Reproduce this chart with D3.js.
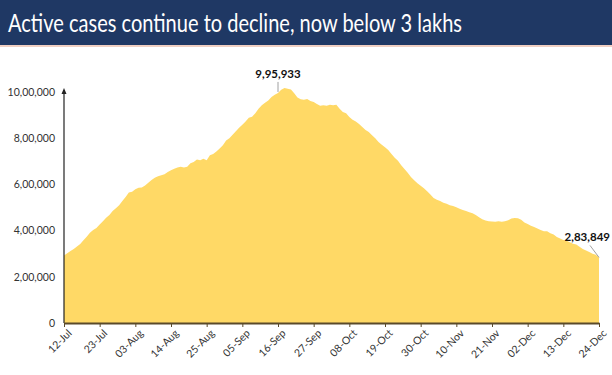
<!DOCTYPE html>
<html>
<head>
<meta charset="utf-8">
<script src="https://cdn.jsdelivr.net/npm/d3@7"></script>
<style>
  body { margin: 0; background: #fff; }
  svg { display: block; }
</style>
</head>
<body>
<div id="chart"></div>
<script>
let svgWidth = 612;
let svgHeight = 375;

let titleText = 'Active cases continue to decline, now below 3 lakhs';
let startDate = '2020-07-12';
let endDate = '2020-12-24';

// daily active cases, 12-Jul .. 24-Dec
let julyCases = [292258, 301609, 311565, 319840, 331146, 342473, 358692, 373379, 390459, 402529,
  411133, 426167, 440135, 456071, 467882, 485114, 496988, 509447, 528242, 545318];
let augCases = [565103, 567730, 579357, 585587, 586298, 595501, 607384, 619088, 628747, 634945,
  639929, 643948, 653622, 661595, 668220, 673166, 676900, 673166, 676514, 692028,
  697330, 707668, 704348, 710771, 704348, 725991, 731697, 742023, 755000, 770000, 790000];
let sepCases = [800000, 815000, 830000, 845000, 858000, 872000, 888000, 893000, 908000, 928000,
  943000, 953000, 963000, 978000, 988000, 995933, 1009976, 1017754, 1013964, 1010824,
  995000, 975861, 968377, 966382, 970116, 960969, 956402, 947576, 940705, 942217];
let octCases = [940441, 944996, 942217, 944996, 928000, 913000, 907883, 892000, 880000, 872000,
  861853, 848000, 836000, 826876, 812390, 800000, 783311, 772055, 761000, 748538,
  732000, 715812, 702000, 683000, 667000, 650000, 632000, 618000, 605000, 594386, 583000];
let novCases = [570458, 556000, 541405, 533787, 527962, 520773, 516632, 509673, 506000, 501000,
  494657, 489294, 484547, 479216, 475000, 468000, 458000, 449000, 443794, 440000,
  439747, 438667, 441000, 438000, 440962, 444746, 452344, 454940, 453956, 446952];
let decCases = [435603, 428644, 421000, 416082, 409000, 403000, 397000, 396729, 389000, 383000,
  372293, 366000, 359819, 356546, 350000, 343000, 339820, 330000, 320000, 313831,
  307000, 300000, 295000, 283849];

let yTicks = [0, 200000, 400000, 600000, 800000, 1000000];
let peakLabel = { date: '2020-09-16', value: 995933, text: '9,95,933' };
let lastLabel = { date: '2020-12-24', value: 283849, text: '2,83,849' };

let margin = { top: 92, right: 13, bottom: 52, left: 64 };
let width = svgWidth - margin.left - margin.right;
let height = svgHeight - margin.top - margin.bottom;

let parseDate = d3.timeParse('%Y-%m-%d');
let allCases = julyCases.concat(augCases, sepCases, octCases, novCases, decCases);
let chartData = allCases.map(function(v, i) {
  return { date: d3.timeDay.offset(parseDate(startDate), i), cases: v };
});

let svg = d3.select('#chart')
  .append('svg')
  .attr('width', svgWidth)
  .attr('height', svgHeight);

// title bar
svg.append('rect')
  .attr('x', 0).attr('y', 0)
  .attr('width', svgWidth).attr('height', 45)
  .attr('fill', '#1f3864');
svg.append('rect')
  .attr('x', 0).attr('y', 45)
  .attr('width', svgWidth).attr('height', 2)
  .attr('fill', '#f0cfc2');
svg.append('text')
  .attr('x', 8).attr('y', 32)
  .attr('fill', '#fff')
  .attr('font-family', 'Lato, sans-serif')
  .attr('font-size', 25)
  .attr('textLength', 454)
  .attr('lengthAdjust', 'spacingAndGlyphs')
  .text(titleText);

let chartGroup = svg.append('g')
  .attr('transform', `translate(${margin.left}, ${margin.top})`);

let xScale = d3.scaleTime()
  .domain([parseDate(startDate), parseDate(endDate)])
  .range([0, width]);

let yScale = d3.scaleLinear()
  .domain([0, 1000000])
  .range([height, 0]);

let area = d3.area()
  .x(d => xScale(d.date))
  .y0(height)
  .y1(d => yScale(d.cases));

chartGroup.append('path')
  .datum(chartData)
  .attr('d', area)
  .attr('fill', '#ffd966');

// y axis
let indianFormat = function(v) {
  if (v === 0) return '0';
  let s = String(v);
  let last3 = s.slice(-3);
  let rest = s.slice(0, -3);
  return rest.replace(/\B(?=(\d{2})+(?!\d))/g, ',') + ',' + last3;
};

let leftAxis = d3.axisLeft(yScale)
  .tickValues(yTicks)
  .tickSize(0)
  .tickPadding(9)
  .tickFormat(indianFormat);

let yAxis = chartGroup.append('g').call(leftAxis);
yAxis.select('.domain').remove();
yAxis.selectAll('text')
  .attr('font-family', 'Lato, sans-serif')
  .attr('font-size', 10.5)
  .attr('fill', '#333');

chartGroup.append('line')
  .attr('x1', 0).attr('x2', 0)
  .attr('y1', height).attr('y2', -2)
  .attr('stroke', '#222')
  .attr('stroke-width', 1.2);
chartGroup.append('path')
  .attr('d', 'M-2.5,2 L0,-4 L2.5,2 Z')
  .attr('fill', '#222');

// x axis
let xTicks = d3.range(0, 166, 11).map(i => d3.timeDay.offset(parseDate(startDate), i));
let bottomAxis = d3.axisBottom(xScale)
  .tickValues(xTicks)
  .tickSizeInner(4)
  .tickSizeOuter(0)
  .tickFormat(d3.timeFormat('%d-%b'));

let xAxis = chartGroup.append('g')
  .attr('transform', `translate(0,${height})`)
  .call(bottomAxis);
xAxis.select('.domain')
  .attr('stroke', '#5a4a2a')
  .attr('stroke-width', 2);
xAxis.selectAll('.tick line')
  .attr('stroke', '#5a4a2a');
xAxis.selectAll('text')
  .attr('font-family', 'Lato, sans-serif')
  .attr('font-size', 10.5)
  .attr('fill', '#333')
  .attr('text-anchor', 'end')
  .attr('transform', 'translate(0,3) rotate(-45)')
  .attr('dy', '0.4em');

// data labels
let peakX = xScale(parseDate(peakLabel.date));
let peakY = yScale(peakLabel.value);
chartGroup.append('line')
  .attr('x1', peakX).attr('x2', peakX)
  .attr('y1', peakY - 1).attr('y2', peakY - 11)
  .attr('stroke', '#888').attr('stroke-width', 0.8);
chartGroup.append('text')
  .attr('x', peakX).attr('y', peakY - 15)
  .attr('text-anchor', 'middle')
  .attr('font-family', 'Lato, sans-serif')
  .attr('font-weight', 700)
  .attr('font-size', 11.5)
  .attr('fill', '#111')
  .text(peakLabel.text);

let lastX = xScale(parseDate(lastLabel.date));
let lastY = yScale(lastLabel.value);
chartGroup.append('line')
  .attr('x1', lastX).attr('x2', lastX - 9)
  .attr('y1', lastY).attr('y2', lastY - 12)
  .attr('stroke', '#888').attr('stroke-width', 0.8);
chartGroup.append('text')
  .attr('x', lastX + 11).attr('y', lastY - 16)
  .attr('text-anchor', 'end')
  .attr('font-family', 'Lato, sans-serif')
  .attr('font-weight', 700)
  .attr('font-size', 11.5)
  .attr('fill', '#111')
  .text(lastLabel.text);
</script>
</body>
</html>
